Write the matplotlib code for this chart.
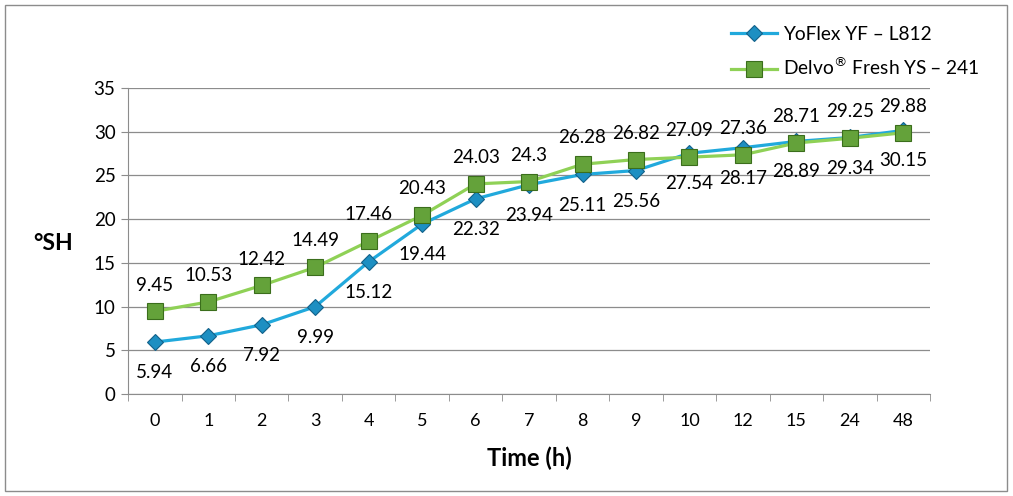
import numpy as np
import matplotlib.pyplot as plt
from matplotlib.patches import Rectangle

# data
time_labels = ['0', '1', '2', '3', '4', '5', '6', '7', '8', '9', '10', '12', '15', '24', '48']
yoflex = [5.94, 6.66, 7.92, 9.99, 15.12, 19.44, 22.32, 23.94, 25.11, 25.56, 27.54, 28.17, 28.89, 29.34, 30.15]
delvo = [9.45, 10.53, 12.42, 14.49, 17.46, 20.43, 24.03, 24.3, 26.28, 26.82, 27.09, 27.36, 28.71, 29.25, 29.88]

plt.rcParams['font.family'] = ['Lato', 'DejaVu Sans']

fig = plt.figure(figsize=(10.13, 4.96), dpi=100)
ax = fig.add_axes([0.1264, 0.2056, 0.7917, 0.617])

x = np.arange(len(time_labels))
blue_line = '#21a9dc'
green_line = '#8fd156'

ax.plot(x, yoflex, color=blue_line, lw=2.3, marker='D', ms=8.5,
        mfc='#1d8fc2', mec='#12618a', mew=0.8, label='YoFlex YF \u2013 L812', zorder=3)
ax.plot(x, delvo, color=green_line, lw=2.3, marker='s', ms=11.5,
        mfc='#64a23a', mec='#3b6e1c', mew=0.8, label='Delvo$^{\u00ae}$ Fresh YS \u2013 241', zorder=4)

# data labels: blue below, green above
for xi, v in zip(x, yoflex):
    ax.annotate(f'{v:g}', (xi, v), xytext=(0, -22), textcoords='offset points',
                ha='center', va='center', fontsize=13.5)
for xi, v in zip(x, delvo):
    ax.annotate(f'{v:g}', (xi, v), xytext=(0, 19), textcoords='offset points',
                ha='center', va='center', fontsize=13.5)

ax.set_ylim(0, 35)
ax.set_yticks(range(0, 36, 5))
ax.set_xlim(-0.5, len(time_labels) - 0.5)
ax.set_xticks(x)
ax.set_xticklabels(time_labels)
ax.set_xticks(np.arange(-0.5, len(time_labels)), minor=True)
ax.tick_params(axis='x', which='major', length=0, pad=14, labelsize=13)
ax.tick_params(axis='x', which='minor', length=5, color='#8c8c8c')
ax.tick_params(axis='y', length=5, color='#8c8c8c', labelsize=13.5, pad=4)

ax.grid(axis='y', color='#8c8c8c', lw=0.9)
ax.set_axisbelow(True)
for s in ['top', 'right']:
    ax.spines[s].set_visible(False)
for s in ['left', 'bottom']:
    ax.spines[s].set_color('#8c8c8c')

ax.set_xlabel('Time (h)', fontsize=17, fontweight='bold', labelpad=12)
fig.text(0.052, 0.51, '\u00b0SH', fontsize=16.5, fontweight='bold', ha='center', va='center')

fig.legend(loc='upper left', bbox_to_anchor=(0.705, 0.982), frameon=False,
           fontsize=13.75, handlelength=2.4, labelspacing=0.68, handletextpad=0.3)

fig.patches.append(Rectangle((0.005, 0.01), 0.989, 0.98, transform=fig.transFigure,
                             fill=False, edgecolor='#8c8c8c', lw=1))

fig.savefig('out.png', dpi=100)
